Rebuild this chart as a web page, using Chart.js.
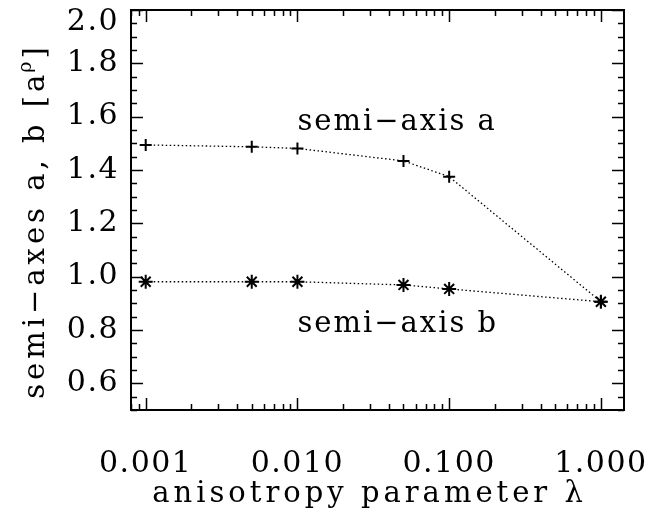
<!DOCTYPE html>
<html>
<head>
<meta charset="utf-8">
<script src="https://cdn.jsdelivr.net/npm/chart.js@4/dist/chart.umd.min.js"></script>
<style>
  html, body { margin: 0; padding: 0; background: #fff; }
</style>
</head>
<body>
<canvas id="my-chart" width="649" height="510"></canvas>
<script>
'use strict';

// ***** DATA *****

let lambdas = [0.001, 0.005, 0.01, 0.05, 0.1, 1.0];
let semiAxisA = [1.494, 1.487, 1.481, 1.434, 1.375, 0.906];
let semiAxisB = [0.981, 0.981, 0.981, 0.969, 0.954, 0.906];

let xTickValues = [0.001, 0.01, 0.1, 1];
let yTickValues = [0.6, 0.8, 1.0, 1.2, 1.4, 1.6, 1.8, 2.0];

let curveLabels = ['semi\u2212axis a', 'semi\u2212axis b'];
let curveLabelX = [0.01, 0.01];
let curveLabelY = [1.55, 0.793];

// ***** HELPERS *****

let FONT = 'DejaVu Serif';
let Y_MAX = 2.0;

function toPoints(xs, ys){
  let pts = [];
  for(let i = 0; i < xs.length; i++){
    pts.push({x: xs[i], y: ys[i]});
  }
  return pts;
}

// frame with inward ticks on all four sides, plus the free text
let framePlugin = {
  id: 'framePlugin',
  beforeDraw(chart){
    chart.ctx.letterSpacing = '1.5px';
  },
  afterDraw(chart){
    let c = chart.ctx;
    let area = chart.chartArea;
    let xs = chart.scales.x;
    let ys = chart.scales.y;

    c.save();
    c.strokeStyle = '#000';
    c.lineWidth = 2;
    c.strokeRect(area.left, area.top, area.right - area.left, area.bottom - area.top);

    c.lineWidth = 1.5;
    c.beginPath();
    // y ticks every 0.05, major every 0.2
    for(let i = 10; i <= 40; i++){
      let v = i * 0.05;
      let py = Math.round(ys.getPixelForValue(v)) + 0.5;
      let len = (i % 4 === 0) ? 12 : 6;
      c.moveTo(area.left, py); c.lineTo(area.left + len, py);
      c.moveTo(area.right, py); c.lineTo(area.right - len, py);
    }
    // log x ticks
    for(let d = -4; d <= 0; d++){
      for(let m = 1; m <= 9; m++){
        let v = m * Math.pow(10, d);
        if(v < xs.min || v > xs.max) continue;
        let px = Math.round(xs.getPixelForValue(v)) + 0.5;
        let len = (m === 1) ? 12 : 6;
        c.moveTo(px, area.bottom); c.lineTo(px, area.bottom - len);
        c.moveTo(px, area.top); c.lineTo(px, area.top + len);
      }
    }
    c.stroke();

    c.fillStyle = '#000';
    c.font = '30px "' + FONT + '"';

    // top y label is pushed down inside the window, like the original
    c.letterSpacing = '1.5px';
    c.textAlign = 'right';
    c.textBaseline = 'middle';
    c.fillText(Y_MAX.toFixed(1), area.left - 12, ys.getPixelForValue(Y_MAX) + 12);

    c.font = '29px "' + FONT + '"';
    c.textBaseline = 'alphabetic';

    // curve labels
    c.letterSpacing = '2px';
    c.textAlign = 'left';
    for(let i = 0; i < curveLabels.length; i++){
      c.fillText(curveLabels[i], xs.getPixelForValue(curveLabelX[i]), ys.getPixelForValue(curveLabelY[i]));
    }

    // x title
    c.letterSpacing = '4px';
    c.textAlign = 'center';
    c.fillText('anisotropy parameter \u03bb', (area.left + area.right) / 2 - 8, 502);

    // y title, rotated, with the small rho
    let main = 'semi\u2212axes a, b [a';
    let sub = '\u03c1';
    let end = ']';
    c.textAlign = 'left';
    let w1 = c.measureText(main).width;
    let w3 = c.measureText(end).width;
    c.font = '19px "' + FONT + '"';
    c.letterSpacing = '1px';
    let w2 = c.measureText(sub).width;
    let total = w1 + w2 + w3;
    c.translate(44, 221);
    c.rotate(-Math.PI / 2);
    let sx = -total / 2;
    c.font = '29px "' + FONT + '"';
    c.letterSpacing = '4px';
    c.fillText(main, sx, 0);
    c.font = '19px "' + FONT + '"';
    c.letterSpacing = '1px';
    c.fillText(sub, sx + w1 - 2, -13);
    c.font = '29px "' + FONT + '"';
    c.letterSpacing = '4px';
    c.fillText(end, sx + w1 + w2, 0);
    c.restore();
  }
};

// ***** CHART *****

let ctx = document.getElementById('my-chart').getContext('2d');

let myChartObj = {
  type: 'scatter',
  data: {
    datasets: [{
      label: 'semi-axis a',
      data: toPoints(lambdas, semiAxisA),
      showLine: true,
      borderColor: '#000',
      borderWidth: 1.3,
      borderDash: [1.5, 2.5],
      pointStyle: 'cross',
      pointRadius: 6,
      pointBorderWidth: 2,
      pointBorderColor: '#000',
      pointBackgroundColor: '#000',
      tension: 0
    },
    {
      label: 'semi-axis b',
      data: toPoints(lambdas, semiAxisB),
      showLine: true,
      borderColor: '#000',
      borderWidth: 1.3,
      borderDash: [1.5, 2.5],
      pointStyle: 'star',
      pointRadius: 7,
      pointBorderWidth: 2,
      pointBorderColor: '#000',
      pointBackgroundColor: '#000',
      tension: 0
    }]
  },
  options: {
    responsive: false,
    animation: false,
    devicePixelRatio: 1,
    layout: {
      padding: {top: 10, right: 25, left: 0, bottom: 0}
    },
    plugins: {
      legend: {display: false},
      tooltip: {enabled: false}
    },
    scales: {
      x: {
        type: 'logarithmic',
        min: 0.0008,
        max: 1.42,
        grid: {display: false, drawTicks: false},
        border: {display: false},
        afterBuildTicks: function(scale){
          scale.ticks = xTickValues.map(v => ({value: v}));
        },
        afterFit: function(scale){
          scale.height = 100;
          scale.paddingLeft = 0;
          scale.paddingRight = 0;
        },
        ticks: {
          autoSkip: false,
          maxRotation: 0,
          padding: 36,
          color: '#000',
          font: {family: FONT, size: 30},
          callback: v => v.toFixed(3)
        }
      },
      y: {
        type: 'linear',
        min: 0.5,
        max: Y_MAX,
        grid: {display: false, drawTicks: false},
        border: {display: false},
        afterBuildTicks: function(scale){
          scale.ticks = yTickValues.map(v => ({value: v}));
        },
        afterFit: function(scale){
          scale.width = 131;
          scale.paddingTop = 0;
          scale.paddingBottom = 0;
        },
        ticks: {
          autoSkip: false,
          padding: 12,
          color: '#000',
          font: {family: FONT, size: 30},
          // the top one is drawn by the plugin
          callback: v => (v === Y_MAX ? '' : v.toFixed(1))
        }
      }
    }
  },
  plugins: [framePlugin]
};

new Chart(ctx, myChartObj);
</script>
</body>
</html>
